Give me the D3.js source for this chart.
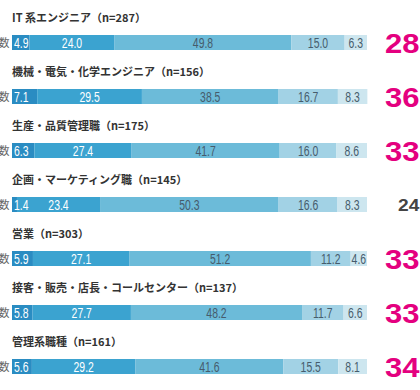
<!DOCTYPE html>
<html><head><meta charset="utf-8">
<script src="https://cdn.jsdelivr.net/npm/d3@7/dist/d3.min.js"></script>
<style>
html,body{margin:0;padding:0;background:#fff;overflow:hidden;}
svg{display:block;}
</style></head>
<body>
<svg id="chart" width="420" height="390"></svg>
<script>
const categories = [
  "IT 系エンジニア（n=287）",
  "機械・電気・化学エンジニア（n=156）",
  "生産・品質管理職（n=175）",
  "企画・マーケティング職（n=145）",
  "営業（n=303）",
  "接客・販売・店長・コールセンター（n=137）",
  "管理系職種（n=161）"
];
const s1 = [4.9, 7.1, 6.3, 1.4, 5.9, 5.8, 5.6];
const s2 = [24.0, 29.5, 27.4, 23.4, 27.1, 27.7, 29.2];
const s3 = [49.8, 38.5, 41.7, 50.3, 51.2, 48.2, 41.6];
const s4 = [15.0, 16.7, 16.0, 16.6, 11.2, 11.7, 15.5];
const s5 = [6.3, 8.3, 8.6, 8.3, 4.6, 6.6, 8.1];
const totals = [28.9, 36.6, 33.7, 24.8, 33.0, 33.5, 34.8];
const highlight = [true, true, true, false, true, true, true];
const rowLabel = "数";

const keys = ["s1","s2","s3","s4","s5"];
const colors = ["#2a8cc2", "#3ba3d0", "#6cbbd9", "#a2d2e5", "#cde6ef"];
const textColors = ["#ffffff", "#ffffff", "#465c6c", "#465c6c", "#465c6c"];

const table = categories.map((c, i) => ({cat: c, s1: s1[i], s2: s2[i], s3: s3[i], s4: s4[i], s5: s5[i], total: totals[i], hl: highlight[i]}));

const svg = d3.select("#chart");
const x = d3.scaleLinear().domain([0, 100]).range([12, 367]);
const y = d3.scaleBand().domain(categories).range([8, 386]).paddingInner(0).paddingOuter(0);
const barTop = 27, barH = 15;

const stack = d3.stack().keys(keys)(table);
const numFont = "'Liberation Sans', Arial, sans-serif";

const rows = svg.selectAll("g.row").data(table).join("g")
  .attr("class", "row")
  .attr("transform", d => `translate(0,${y(d.cat)})`);

rows.append("text")
  .attr("x", 12).attr("y", 14)
  .attr("font-family", "'Noto Sans CJK JP', sans-serif")
  .attr("font-weight", 700)
  .attr("font-size", 11)
  .attr("fill", "#333")
  .text(d => d.cat);

rows.append("text")
  .attr("x", 9.5).attr("y", barTop + barH / 2 + 4)
  .attr("text-anchor", "end")
  .attr("font-family", "'Noto Sans CJK JP', sans-serif")
  .attr("font-size", 11)
  .attr("fill", "#666")
  .text(rowLabel);

// rects first
stack.forEach((layer, k) => {
  layer.forEach((seg, i) => {
    rows.filter((d, j) => j === i).append("rect")
      .attr("x", x(seg[0])).attr("y", barTop)
      .attr("width", x(seg[1]) - x(seg[0])).attr("height", barH)
      .attr("fill", colors[k]);
  });
});
// labels
stack.forEach((layer, k) => {
  layer.forEach((seg, i) => {
    const x0 = x(seg[0]), x1 = x(seg[1]);
    const v = seg.data[keys[k]];
    const tx = k === 0 ? x0 + 2 : (x0 + x1) / 2;
    rows.filter((d, j) => j === i).append("text")
      .attr("transform", `translate(${tx},${barTop + barH / 2 + 5.2}) scale(0.72,1)`)
      .attr("text-anchor", k === 0 ? "start" : "middle")
      .attr("font-family", numFont)
      .attr("font-size", 14.5)
      .attr("fill", textColors[k])
      .text(v.toFixed(1));
  });
});

rows.append("text")
  .attr("transform", d => d.hl ? `translate(385,${barTop + barH + 3}) scale(1.15,1)` : `translate(398,${barTop + barH - 1}) scale(1.2,1)`)
  .attr("font-family", numFont)
  .attr("font-weight", 700)
  .attr("font-size", d => d.hl ? 27 : 16)
  .attr("fill", d => d.hl ? "#e4007f" : "#444")
  .text(d => d.total.toFixed(1));
</script>
</body></html>
